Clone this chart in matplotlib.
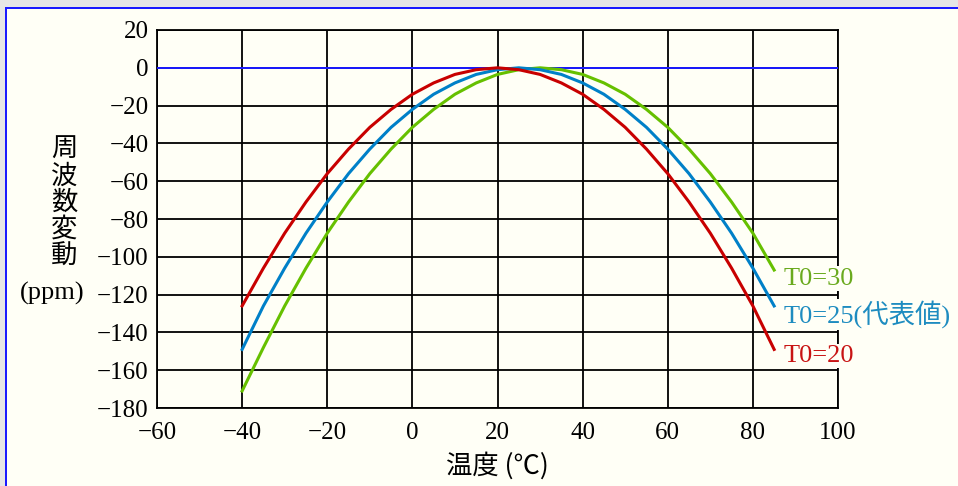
import matplotlib
matplotlib.use('Agg')
import matplotlib.pyplot as plt
from matplotlib.patches import Rectangle

# values (ppm at every 5 degC)
temps = [-40, -35, -30, -25, -20, -15, -10, -5, 0, 5, 10, 15, 20,
         25, 30, 35, 40, 45, 50, 55, 60, 65, 70, 75, 80, 85]
dev_t20 = [-126, -106, -87.5, -71, -56, -43, -31.5, -22, -14, -8, -3.5, -1, 0,
           -1, -3.5, -8, -14, -22, -31.5, -43, -56, -71, -87.5, -106, -126, -149]
dev_t25 = [-149, -126, -106, -87.5, -71, -56, -43, -31.5, -22, -14, -8, -3.5, -1,
           0, -1, -3.5, -8, -14, -22, -31.5, -43, -56, -71, -87.5, -106, -126]
dev_t30 = [-171, -148, -126, -106, -87.5, -71, -56, -43, -31.5, -22, -14, -8, -3.5,
           -1, 0, -1, -3.5, -8, -14, -22, -31.5, -43, -56, -71, -87.5, -107]

series = [
    ("T0=30", dev_t30, "#66c000", "#6aaa1e"),
    ("T0=25(代表値)", dev_t25, "#0080c8", "#1e8cc0"),
    ("T0=20", dev_t20, "#c80000", "#c81414"),
]
label_y = [-111.5, -130.5, -152.5]

xticks = [-60, -40, -20, 0, 20, 40, 60, 80, 100]
yticks = [20, 0, -20, -40, -60, -80, -100, -120, -140, -160, -180]

serif = ['Liberation Serif', 'Noto Sans CJK JP']
cjk = ['Noto Sans CJK JP', 'Liberation Serif']
bg = '#fffff6'

W, H = 958, 486
fig = plt.figure(figsize=(W / 100, H / 100), dpi=100)
fig.patch.set_facecolor(bg)

# window-like frame: grey strip on top/left, blue border
fig.patches.append(Rectangle((0, 1 - 7 / H), 1, 7 / H, transform=fig.transFigure,
                             facecolor='#e6e6e6', edgecolor='none', zorder=0))
fig.patches.append(Rectangle((0, 0), 5 / W, 1, transform=fig.transFigure,
                             facecolor='#e6e6e6', edgecolor='none', zorder=0))
fig.patches.append(Rectangle((5 / W, 0), 2 / W, 1 - 7 / H, transform=fig.transFigure,
                             facecolor='#1a1aff', edgecolor='none', zorder=1))
fig.patches.append(Rectangle((5 / W, 1 - 9 / H), 1, 2 / H, transform=fig.transFigure,
                             facecolor='#1a1aff', edgecolor='none', zorder=1))

ax = fig.add_axes([157 / W, 1 - 408 / H, (838 - 157) / W, (408 - 30) / H])
ax.set_facecolor(bg)
ax.set_xlim(-60, 100)
ax.set_ylim(-180, 20)
ax.set_xticks(xticks)
ax.set_yticks(yticks)
ax.grid(True, color='black', linewidth=1.3)
ax.set_axisbelow(True)
for s in ax.spines.values():
    s.set_linewidth(1.3)
    s.set_color('black')
ax.tick_params(length=0, labelsize=18)
ax.tick_params(axis='x', pad=10)
ax.tick_params(axis='y', pad=6)
for lab in ax.get_xticklabels() + ax.get_yticklabels():
    lab.set_fontfamily(serif)

ax.axhline(0, color='#1a1aff', linewidth=1.4, zorder=3)

for (name, vals, lc, tc), ly in zip(series, label_y):
    ax.plot(temps, vals, color=lc, linewidth=2.2, zorder=4)
    ax.text(87.3, ly, name, color=tc, fontsize=19, family=serif, va='center',
            ha='left', clip_on=False, zorder=5,
            bbox=dict(facecolor=bg, edgecolor='none', pad=1))

ax.set_xlabel('温度 (℃)', fontsize=19, family=cjk, labelpad=6)

fig.text(64 / W, 1 - 136 / H, '周\n波\n数\n変\n動', fontsize=19, family=cjk,
         ha='center', va='top', linespacing=0.98)
fig.text(52 / W, 1 - 293 / H, '(ppm)', fontsize=19, family=serif,
         ha='center', va='center')

fig.savefig('out.png', dpi=100, facecolor=bg)
